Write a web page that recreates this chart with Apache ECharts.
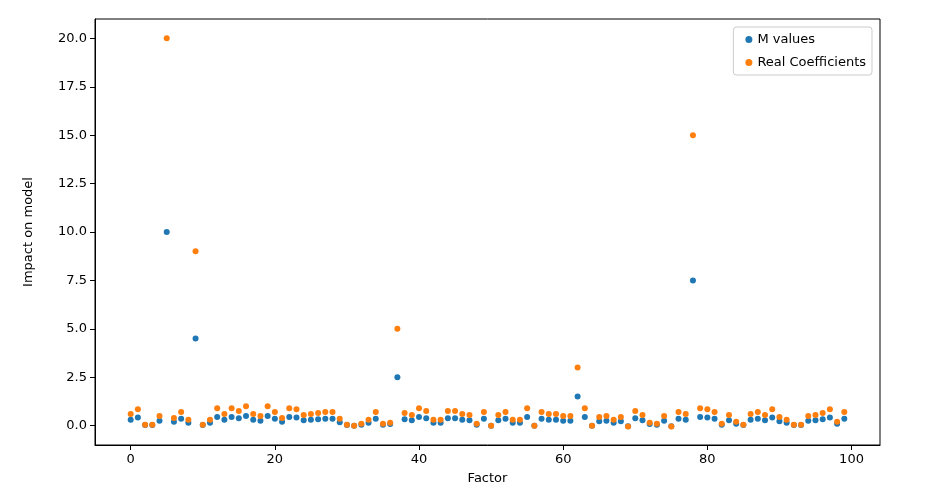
<!DOCTYPE html>
<html>
<head>
<meta charset="UTF-8">
<script src="https://cdn.jsdelivr.net/npm/echarts@6/dist/echarts.min.js"></script>
<style>body{margin:0;background:#fff}#c{width:930px;height:494px}</style>
</head>
<body>
<div id="c"></div>
<script>
// values, factor index = array position
var realCoef = [0.6,0.85,0.05,0.05,0.5,20,0.4,0.7,0.3,9,
  0.05,0.3,0.9,0.6,0.9,0.75,1.0,0.6,0.5,1.0,
  0.7,0.4,0.9,0.85,0.55,0.6,0.65,0.7,0.7,0.35,
  0.05,0.0,0.1,0.3,0.7,0.1,0.15,5,0.65,0.55,
  0.9,0.75,0.3,0.3,0.75,0.75,0.6,0.55,0.1,0.7,
  0.0,0.55,0.7,0.3,0.3,0.9,0.0,0.7,0.6,0.6,
  0.5,0.5,3,0.9,0.0,0.45,0.5,0.3,0.45,-0.05,
  0.75,0.55,0.15,0.1,0.5,-0.05,0.7,0.6,15,0.9,
  0.85,0.7,0.1,0.55,0.2,0.05,0.6,0.7,0.55,0.85,
  0.45,0.3,0.05,0.05,0.5,0.55,0.65,0.85,0.2,0.7];
var mValues = [0.3,0.42,0.03,0.03,0.25,10,0.2,0.35,0.15,4.5,
  0.03,0.15,0.45,0.3,0.45,0.38,0.5,0.3,0.25,0.5,
  0.35,0.2,0.45,0.42,0.28,0.3,0.33,0.35,0.35,0.18,
  0.03,0.0,0.05,0.15,0.35,0.05,0.08,2.5,0.33,0.28,
  0.45,0.38,0.15,0.15,0.38,0.38,0.3,0.28,0.05,0.35,
  0.0,0.28,0.35,0.15,0.15,0.45,0.0,0.35,0.3,0.3,
  0.25,0.25,1.5,0.45,0.0,0.23,0.25,0.15,0.23,-0.03,
  0.38,0.28,0.08,0.05,0.25,-0.03,0.35,0.3,7.5,0.45,
  0.42,0.35,0.05,0.28,0.1,0.03,0.3,0.35,0.28,0.42,
  0.23,0.15,0.03,0.03,0.25,0.28,0.33,0.42,0.1,0.35];
var xTicks = [0,20,40,60,80,100];
var yTicks = [0,2.5,5,7.5,10,12.5,15,17.5,20];

function pts(arr){ var out=[]; for (var i=0;i<arr.length;i++) out.push([i,arr[i]]); return out; }

var chart = echarts.init(document.getElementById('c'));
var txt = {color:'#000', fontFamily:'DejaVu Sans', fontSize:13};
chart.setOption({
  animation:false,
  grid:{left:95,right:50,top:19,bottom:49,show:true,borderColor:'#000',borderWidth:1},
  legend:{right:58,top:27,orient:'vertical',itemWidth:7,itemHeight:7,itemGap:10,
    textStyle:{fontFamily:'DejaVu Sans',fontSize:13,color:'#000'},
    backgroundColor:'#fff',borderColor:'#ccc',borderWidth:1,borderRadius:3,padding:[6,6,6,12],
    data:['M values','Real Coefficients']},
  xAxis:{type:'value',min:-4.95,max:103.95,name:'Factor',nameLocation:'middle',nameGap:27,nameTextStyle:txt,
    splitLine:{show:false},axisLine:{onZero:false,lineStyle:{color:'#000'}},
    axisLabel:Object.assign({customValues:xTicks},txt),
    axisTick:{customValues:xTicks,lineStyle:{color:'#000'}}},
  yAxis:{type:'value',min:-1,max:21,name:'Impact on model',nameLocation:'middle',nameGap:60,nameTextStyle:txt,
    splitLine:{show:false},axisLine:{show:true,onZero:false,lineStyle:{color:'#000'}},
    axisLabel:Object.assign({customValues:yTicks,formatter:function(v){return v.toFixed(1);}},txt),
    axisTick:{show:true,customValues:yTicks,lineStyle:{color:'#000'}}},
  series:[
    {name:'M values',type:'scatter',symbolSize:6,itemStyle:{color:'#1f77b4',opacity:1},data:pts(mValues)},
    {name:'Real Coefficients',type:'scatter',symbolSize:6,itemStyle:{color:'#ff7f0e',opacity:1},data:pts(realCoef)}
  ]
});
</script>
</body>
</html>
